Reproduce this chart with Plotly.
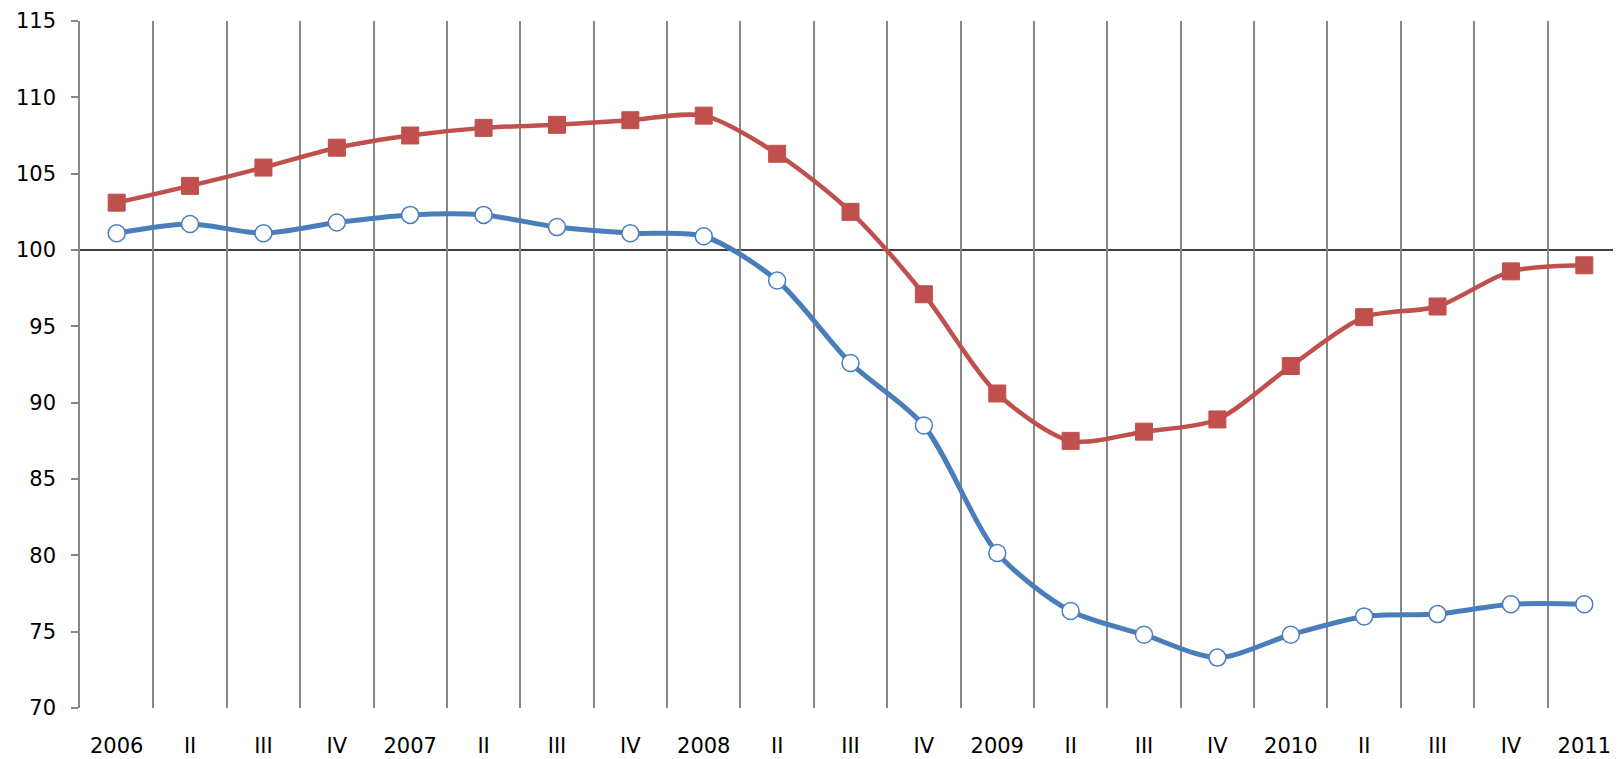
import plotly.graph_objects as go

labels = ["2006", "II", "III", "IV", "2007", "II", "III", "IV", "2008", "II", "III", "IV",
          "2009", "II", "III", "IV", "2010", "II", "III", "IV", "2011"]
red_values = [103.1, 104.2, 105.4, 106.7, 107.5, 108.0, 108.2, 108.5, 108.8, 106.3, 102.5, 97.1,
              90.6, 87.5, 88.1, 88.9, 92.4, 95.6, 96.3, 98.6, 99.0]
blue_values = [101.1, 101.7, 101.1, 101.8, 102.3, 102.3, 101.5, 101.1, 100.9, 98.0, 92.6, 88.5,
               80.15, 76.35, 74.8, 73.3, 74.8, 76.0, 76.15, 76.8, 76.8]

x = list(range(len(labels)))

fig = go.Figure()
fig.add_trace(go.Scatter(
    x=x, y=red_values, mode="lines+markers",
    line=dict(color="#C0504D", width=4.5, shape="spline", smoothing=0.8),
    marker=dict(symbol="square", size=17, color="#C0504D", line=dict(color="#C0504D", width=1)),
    showlegend=False))
fig.add_trace(go.Scatter(
    x=x, y=blue_values, mode="lines+markers",
    line=dict(color="#4A7EBB", width=5, shape="spline", smoothing=0.8),
    marker=dict(symbol="circle", size=17, color="white", line=dict(color="#4A7EBB", width=1.5)),
    showlegend=False))

fig.add_shape(type="line", xref="paper", x0=0, x1=1, yref="y", y0=100, y1=100,
              line=dict(color="black", width=1.5), layer="below")

# page body has an 8px default margin; compensate so the plot lands where the reference has it
fig.update_layout(
    width=1613, height=751,
    margin=dict(l=72, r=0, t=13, b=51),
    paper_bgcolor="white", plot_bgcolor="white",
    font=dict(family="DejaVu Sans", size=21, color="black"),
)
fig.update_xaxes(
    range=[-0.5, len(labels) - 0.5],
    tickmode="array", tickvals=x, ticktext=labels,
    showgrid=False, zeroline=False, showline=False,
    ticks="", ticklabelstandoff=23,
    tickfont=dict(size=21),
    minor=dict(tickmode="array", tickvals=[i + 0.5 for i in range(len(labels) - 1)],
               showgrid=True, gridcolor="#878787", gridwidth=1.5, ticks=""),
)
fig.update_yaxes(
    range=[70, 115], dtick=5, tick0=70,
    showgrid=False, zeroline=False,
    showline=True, linecolor="#878787", linewidth=1.5,
    ticks="outside", ticklen=7, tickcolor="#878787", tickwidth=1.5,
    ticklabelstandoff=11,
    tickfont=dict(size=21),
)

fig.write_html("out.html")
